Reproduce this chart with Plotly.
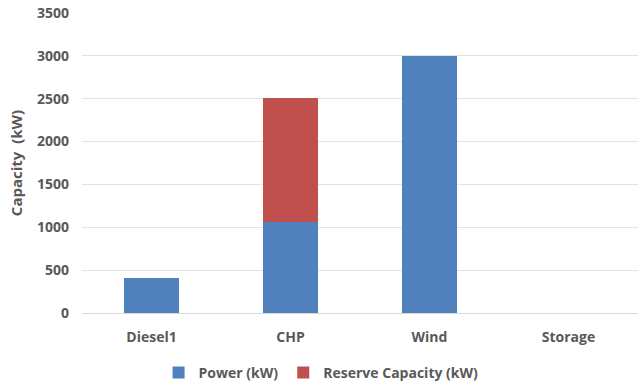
import plotly.graph_objects as go

categories = ["Diesel1", "CHP", "Wind", "Storage"]
power_kw = [410, 1060, 3000, 0]
reserve_kw = [0, 1450, 0, 0]
y_ticks = [0, 500, 1000, 1500, 2000, 2500, 3000, 3500]

grey = "#595959"
family = "Open Sans, Liberation Sans, sans-serif"
fnt = dict(family=family, size=14, color=grey, weight="bold")

fig = go.Figure()
fig.add_trace(go.Bar(x=categories, y=power_kw, name="Power (kW)",
                     marker=dict(color="#4f81bd", line=dict(width=0))))
fig.add_trace(go.Bar(x=categories, y=reserve_kw, name="Reserve Capacity (kW)",
                     marker=dict(color="#c0504d", line=dict(width=0))))

fig.update_layout(
    barmode="stack",
    bargap=0.6,
    width=638, height=386,
    margin=dict(l=82, r=0, t=13, b=73, autoexpand=False),
    paper_bgcolor="white", plot_bgcolor="white",
    font=fnt,
    showlegend=True,
    legend=dict(orientation="h", x=0.43, xanchor="center", y=-0.2, yanchor="middle",
                traceorder="normal", itemwidth=30,
                font=dict(family=family, size=14, color=grey, weight="bold")),
    xaxis=dict(showgrid=False, showline=True, linecolor="#d9d9d9", ticks="",
               ticklabelstandoff=11, tickfont=fnt),
    yaxis=dict(range=[0, 3500], tickvals=y_ticks, showgrid=True, gridcolor="#e3e3e3",
               zeroline=False, ticks="", ticklabelstandoff=12,
               tickfont=fnt,
               title=dict(text="Capacity  (kW)", standoff=10,
                          font=dict(family=family, size=15, color=grey, weight="bold"))),
)

fig.write_html("out.html", config={"displayModeBar": False},
               post_script="document.body.style.margin='0';document.body.style.overflow='hidden';")
